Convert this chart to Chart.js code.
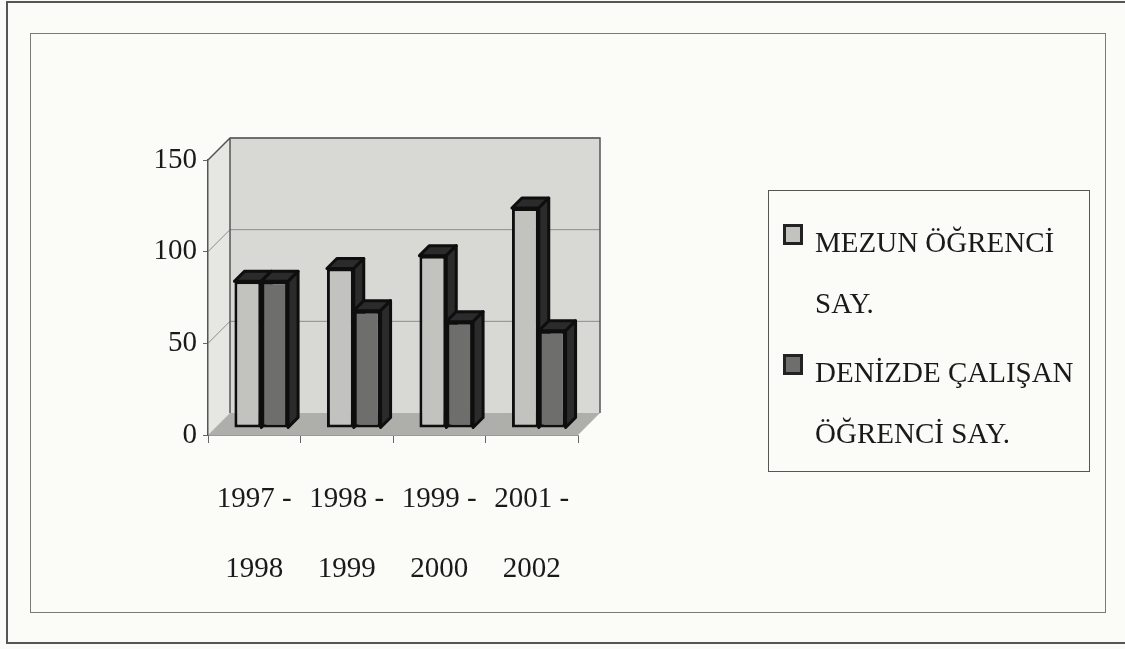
<!DOCTYPE html>
<html>
<head>
<meta charset="utf-8">
<script src="https://cdn.jsdelivr.net/npm/chart.js@4.4.1/dist/chart.umd.min.js"></script>
<style>
  body { margin: 0; background: #fbfbf8; font-family: "Liberation Serif", "DejaVu Serif", serif; color: #1a1a1a; }
  #frame { position: absolute; left: 6px; top: 1px; width: 1130px; height: 639px; border: 2px solid #555; border-right: none; }
  #inner { position: absolute; left: 30px; top: 33px; width: 1074px; height: 578px; border: 1px solid #7a7a7a; }
  #chart { position: absolute; left: 0; top: 0; }
  #legend { position: absolute; left: 768px; top: 190px; width: 320px; height: 280px; border: 1px solid #555; }
  .item { position: absolute; left: 14px; width: 300px; height: 122px; }
  .mark { position: absolute; left: 0; top: 12px; width: 14px; height: 15px; border: 3px solid #222; }
  .txt { position: absolute; left: 32px; top: 0; width: 268px; font-size: 29px; line-height: 61px; color: #1a1a1a; }
</style>
</head>
<body>
<div id="frame"></div>
<div id="inner"></div>
<canvas id="chart" width="1125" height="649"></canvas>
<div id="legend"></div>
<script>
// data
const categories = [["1997 -", "1998"], ["1998 -", "1999"], ["1999 -", "2000"], ["2001 -", "2002"]];
const mezun = [80, 87, 94, 120];
const denizde = [80, 64, 58, 53];
const seriesNames = ["MEZUN ÖĞRENCİ SAY.", "DENİZDE ÇALIŞAN ÖĞRENCİ SAY."];
const yTicks = [0, 50, 100, 150];

const DEPTH = 22;      // depth of the 3d box
const BAR_SHIFT = 7;   // bars stand a bit inside the box
const BAR_DEPTH = 10;  // depth of each bar

function poly(ctx, pts) {
  ctx.beginPath();
  ctx.moveTo(pts[0][0], pts[0][1]);
  for (let i = 1; i < pts.length; i++) ctx.lineTo(pts[i][0], pts[i][1]);
  ctx.closePath();
}

// top and right side faces of every bar of one dataset
function drawFaces(chart, index) {
  const ctx = chart.ctx;
  const d = BAR_DEPTH;
  chart.getDatasetMeta(index).data.forEach((bar) => {
    const { x, y, base, width } = bar.getProps(["x", "y", "base", "width"], true);
    const l = x - width / 2, r = x + width / 2;
    ctx.fillStyle = "#2b2b2b";
    ctx.strokeStyle = "#0e0e0e";
    ctx.lineWidth = 3;
    ctx.lineJoin = "round";
    poly(ctx, [[l, y], [l + d, y - d], [r + d, y - d], [r, y]]);
    ctx.fill();
    ctx.stroke();
    poly(ctx, [[r, y], [r + d, y - d], [r + d, base - d], [r, base]]);
    ctx.fill();
    ctx.stroke();
  });
}

const box3d = {
  id: "box3d",
  beforeDraw(chart) {
    const { ctx, chartArea: a, scales } = chart;
    const d = DEPTH;
    ctx.save();
    // left wall
    ctx.fillStyle = "#e6e6e3";
    poly(ctx, [[a.left, a.top], [a.left + d, a.top - d], [a.left + d, a.bottom - d], [a.left, a.bottom]]);
    ctx.fill();
    // back wall
    ctx.fillStyle = "#d8d8d5";
    ctx.fillRect(a.left + d, a.top - d, a.right - a.left, a.bottom - a.top);
    // floor
    ctx.fillStyle = "#aeaeab";
    poly(ctx, [[a.left, a.bottom], [a.left + d, a.bottom - d], [a.right + d, a.bottom - d], [a.right, a.bottom]]);
    ctx.fill();

    // grid lines on the back wall
    ctx.strokeStyle = "#8c8c8c";
    ctx.lineWidth = 1;
    scales.y.ticks.forEach((t) => {
      if (t.value === 0) return;
      const py = scales.y.getPixelForValue(t.value);
      ctx.beginPath();
      ctx.moveTo(a.left, py);
      ctx.lineTo(a.left + d, py - d);
      ctx.lineTo(a.right + d, py - d);
      ctx.stroke();
    });

    // box outlines
    ctx.strokeStyle = "#555";
    ctx.lineWidth = 1.5;
    ctx.beginPath();
    ctx.moveTo(a.left, a.top);
    ctx.lineTo(a.left + d, a.top - d);
    ctx.lineTo(a.right + d, a.top - d);
    ctx.lineTo(a.right + d, a.bottom - d);
    ctx.moveTo(a.left + d, a.top - d);
    ctx.lineTo(a.left + d, a.bottom - d);
    ctx.stroke();
    ctx.restore();
  },
  beforeDatasetsDraw(chart) {
    chart.ctx.save();
    chart.ctx.translate(BAR_SHIFT, -BAR_SHIFT);
    // the left series' side faces go behind the right series' fronts
    drawFaces(chart, 0);
  },
  afterDatasetsDraw(chart) {
    drawFaces(chart, 1);
    chart.ctx.restore();
  },
};

const chart = new Chart(document.getElementById("chart"), {
  type: "bar",
  data: {
    labels: categories,
    datasets: [
      {
        label: seriesNames[0],
        data: mezun,
        backgroundColor: "#c2c2bf",
        borderColor: "#0e0e0e",
        borderWidth: 3,
        borderSkipped: false,
      },
      {
        label: seriesNames[1],
        data: denizde,
        backgroundColor: "#6e6e6c",
        borderColor: "#0e0e0e",
        borderWidth: 3,
        borderSkipped: false,
      },
    ],
  },
  options: {
    responsive: false,
    animation: false,
    layout: { padding: { left: 150, top: 160, right: 547, bottom: 44 } },
    datasets: { bar: { categoryPercentage: 0.58, barPercentage: 1.0 } },
    plugins: {
      legend: { display: false },
      tooltip: { enabled: false },
    },
    scales: {
      x: {
        afterFit: (scale) => { scale.height = 170; },
        grid: { display: true, drawOnChartArea: false, offset: true, tickLength: 8, color: "#666" },
        border: { display: true, color: "#999" },
        ticks: {
          color: "#1a1a1a",
          padding: 22,
          maxRotation: 0,
          font: { family: "Liberation Serif", size: 29, lineHeight: 2.4 },
        },
      },
      y: {
        min: 0,
        max: 150,
        afterFit: (scale) => { scale.width = 58; },
        afterBuildTicks: (scale) => { scale.ticks = yTicks.map((v) => ({ value: v })); },
        grid: { display: true, drawOnChartArea: false, tickLength: 5, color: "#666" },
        border: { display: true, color: "#555", width: 1.5 },
        ticks: {
          color: "#1a1a1a",
          padding: 6,
          font: { family: "Liberation Serif", size: 29 },
        },
      },
    },
  },
  plugins: [box3d],
});

// html legend built from the chart's datasets, so the long names can wrap
const legend = document.getElementById("legend");
const itemTops = [21, 151];
chart.data.datasets.forEach((ds, i) => {
  const item = document.createElement("div");
  item.className = "item";
  item.style.top = itemTops[i] + "px";
  const mark = document.createElement("div");
  mark.className = "mark";
  mark.style.background = ds.backgroundColor;
  const txt = document.createElement("div");
  txt.className = "txt";
  txt.textContent = ds.label;
  item.appendChild(mark);
  item.appendChild(txt);
  legend.appendChild(item);
});
</script>
</body>
</html>
